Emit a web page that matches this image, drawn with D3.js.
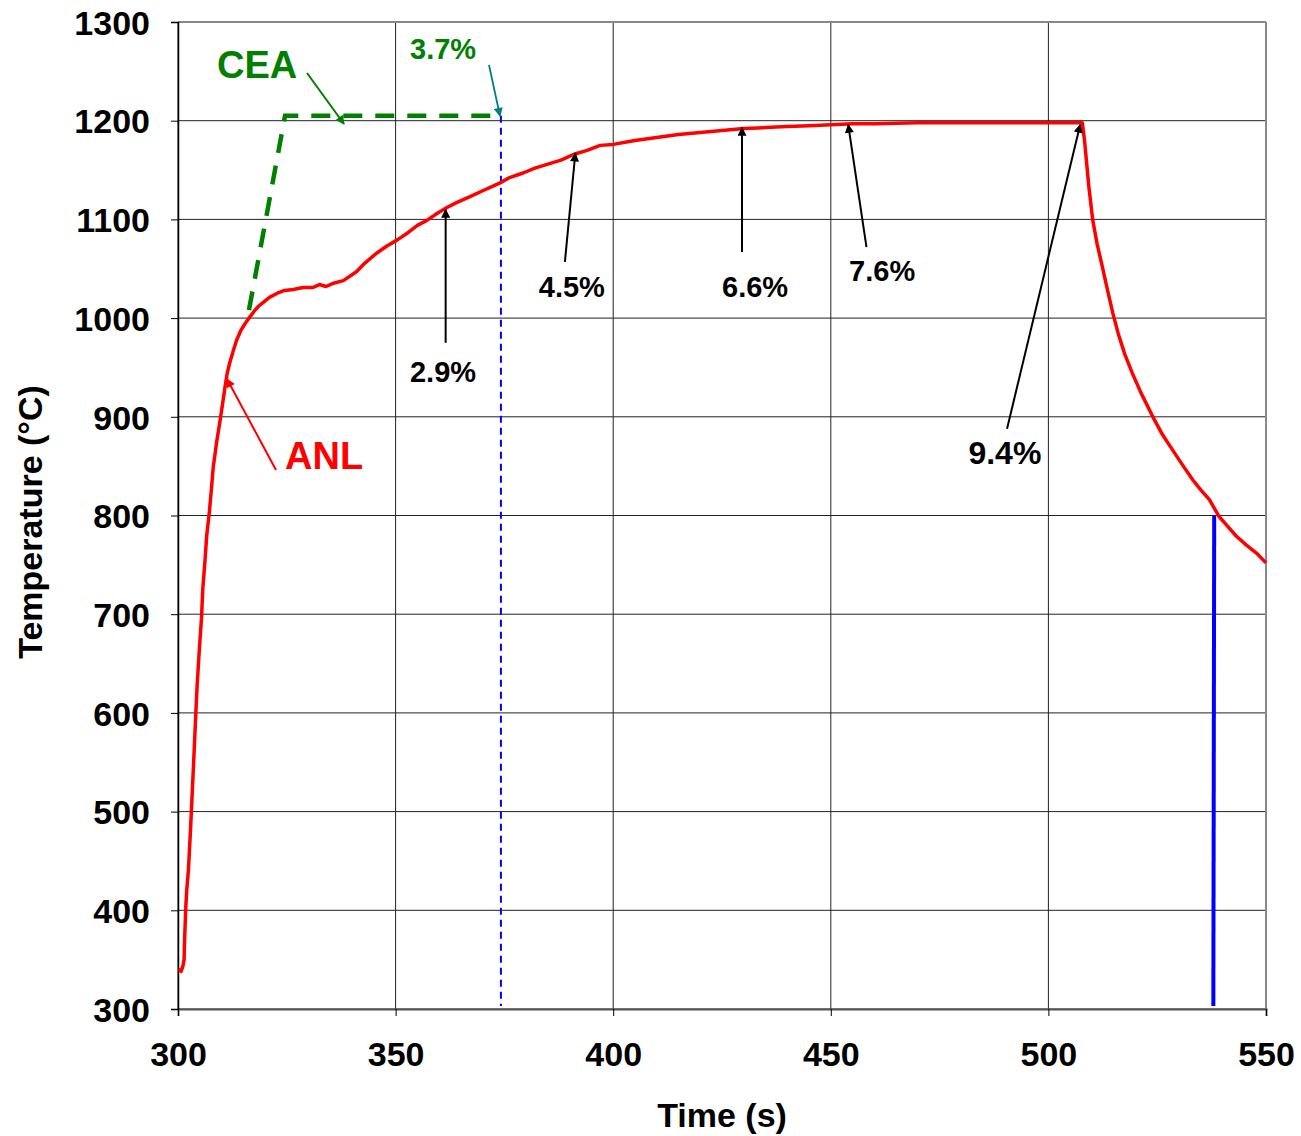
<!DOCTYPE html>
<html>
<head>
<meta charset="utf-8">
<script src="https://cdn.jsdelivr.net/npm/d3@7"></script>
<style>
  html, body { margin: 0; padding: 0; background: #fff; }
  svg { display: block; font-family: "Liberation Sans", Arial, sans-serif; }
</style>
</head>
<body>
<svg id="chart" width="1301" height="1136"></svg>
<script>
// Measured thermocouple trace (ANL): time in s, temperature in °C
const anlTime = [300.2, 300.7, 301.1, 301.4, 301.5, 301.8, 302.0, 302.4, 302.9, 303.3, 303.7, 304.1, 304.4, 304.9, 305.4, 305.7, 306.2, 306.6, 307.2, 307.7, 308.1, 308.9, 309.7, 310.3, 310.8, 311.3, 311.9, 312.7, 313.5, 314.5, 315.5, 316.5, 317.5, 318.5, 319.6, 321.0, 322.7, 324.5, 326.5, 328.7, 331.0, 332.5, 334.0, 335.5, 338.0, 341.0, 343.0, 345.7, 348.0, 350.3, 353.0, 355.0, 357.2, 359.5, 361.8, 364.0, 367.1, 370.0, 372.0, 374.0, 376.0, 379.3, 382.0, 385.0, 388.0, 391.0, 394.0, 397.0, 400.0, 405.0, 410.0, 415.0, 420.0, 425.0, 430.0, 435.0, 440.0, 445.0, 450.0, 455.0, 460.0, 470.0, 480.0, 490.0, 500.0, 507.8, 508.3, 509.3, 510.2, 511.2, 512.4, 513.6, 514.8, 516.0, 517.5, 519.3, 521.3, 524.0, 526.2, 528.6, 531.0, 533.2, 535.0, 537.0, 539.2, 541.0, 543.2, 545.5, 547.8, 550.0];
const anlTemp = [341, 338, 343, 350, 368, 404, 420, 441, 484, 522, 560, 600, 628, 664, 696, 726, 754, 780, 803, 828, 849, 875, 897, 915, 930, 944, 955, 967, 978, 988, 995, 1001, 1007, 1012, 1016, 1021, 1025, 1028, 1029, 1031, 1031, 1034, 1032, 1035, 1038, 1047, 1056, 1066, 1073, 1079, 1087, 1094, 1099, 1106, 1112, 1117, 1123, 1129, 1133, 1137, 1142, 1147, 1152, 1156, 1160, 1166, 1170, 1175, 1176, 1180, 1183, 1186, 1188, 1190, 1192, 1193, 1194, 1195, 1196, 1197, 1197, 1198, 1198, 1198, 1198, 1198, 1180, 1133, 1099, 1075, 1052, 1028, 1005, 985, 964, 944, 924, 900, 882, 866, 850, 836, 826, 816, 799, 790, 779, 770, 762, 752];

// CEA prescribed ramp and plateau
const ceaTime = [316.3, 324.6, 374.2];
const ceaTemp = [1008, 1205, 1205];

// Reference markers: [time, temperature]
const cea37Line = [[374.2, 1205], [374.2, 303]];
const quenchLine = [[538.1, 800], [537.9, 303]];

// Oxidation percentages along the ANL trace
const pctLabels = ["2.9%", "4.5%", "6.6%", "7.6%", "9.4%"];
const pctTip = [[361.5, 1110], [391.3, 1167], [429.6, 1193], [454.0, 1196], [507.3, 1196]];
const pctTail = [[361.5, 975], [388.9, 1057], [429.6, 1067], [458.2, 1072], [490.5, 888]];
const pctText = [[360.9, 935], [390.5, 1021], [432.6, 1021], [461.8, 1038], [490.0, 852]];
const pctSize = [29, 29, 29, 29, 32];

const xTicks = [300, 350, 400, 450, 500, 550];
const yTicks = [300, 400, 500, 600, 700, 800, 900, 1000, 1100, 1200, 1300];

const svg = d3.select("#chart");
const plotL = 178, plotR = 1266, plotT = 22, plotB = 1009;

const x = d3.scaleLinear().domain([300, 550]).range([plotL, plotR]);
const y = d3.scaleLinear().domain([300, 1300]).range([plotB, plotT]);

// Arrowhead markers
const defs = svg.append("defs");
function arrowHead(id, color, w, h) {
  defs.append("marker")
    .attr("id", id).attr("viewBox", "0 0 10 10")
    .attr("refX", 9).attr("refY", 5)
    .attr("markerWidth", w).attr("markerHeight", h)
    .attr("markerUnits", "userSpaceOnUse")
    .attr("orient", "auto")
    .append("path").attr("d", "M0,0 L10,5 L0,10 Z").attr("fill", color);
}
arrowHead("ahBlack", "#000", 10, 9);
arrowHead("ahGreen", "#008000", 11, 9);
arrowHead("ahTeal", "#008080", 10, 9);
arrowHead("ahRed", "#ff0000", 11, 9);

defs.append("clipPath").attr("id", "plotClip")
  .append("rect").attr("x", plotL).attr("y", plotT - 2)
  .attr("width", plotR - plotL + 2).attr("height", plotB - plotT + 4);

// Grid
const grid = svg.append("g");
grid.selectAll("line.h").data(yTicks).join("line").attr("class", "h")
  .attr("x1", plotL).attr("x2", plotR)
  .attr("y1", d => y(d)).attr("y2", d => y(d))
  .attr("stroke", "#222").attr("stroke-width", 1);
grid.selectAll("line.v").data(xTicks).join("line").attr("class", "v")
  .attr("x1", d => x(d)).attr("x2", d => x(d))
  .attr("y1", plotT).attr("y2", plotB)
  .attr("stroke", "#222").attr("stroke-width", 1);

// Plot frame: top and right in grey
svg.append("line").attr("x1", plotL).attr("x2", plotR).attr("y1", plotT).attr("y2", plotT)
  .attr("stroke", "#888").attr("stroke-width", 2);
svg.append("line").attr("x1", plotR).attr("x2", plotR).attr("y1", plotT).attr("y2", plotB)
  .attr("stroke", "#888").attr("stroke-width", 2);

// Axes
const xAxis = svg.append("g").attr("transform", `translate(0,${plotB})`)
  .call(d3.axisBottom(x).tickValues(xTicks).tickSize(7).tickPadding(26).tickFormat(d3.format("d")));
const yAxis = svg.append("g").attr("transform", `translate(${plotL},0)`)
  .call(d3.axisLeft(y).tickValues(yTicks).tickSize(7).tickPadding(21).tickFormat(d3.format("d")));
[xAxis, yAxis].forEach(g => {
  g.selectAll(".tick line").attr("stroke", "#000").attr("stroke-width", 1);
  g.selectAll(".tick text")
    .attr("font-family", "'Liberation Sans', Arial, sans-serif")
    .attr("font-size", 34).attr("font-weight", "bold").attr("fill", "#000");
});
yAxis.selectAll(".tick text").attr("dy", "0.36em");
xAxis.select(".domain").attr("stroke", "#555").attr("stroke-width", 2);
yAxis.select(".domain").attr("stroke", "#000").attr("stroke-width", 1.5);

// Axis titles
svg.append("text").attr("x", 722).attr("y", 1127)
  .attr("text-anchor", "middle").attr("font-size", 34).attr("font-weight", "bold")
  .text("Time (s)");
svg.append("text").attr("transform", "translate(42,522) rotate(-90)")
  .attr("text-anchor", "middle").attr("font-size", 34).attr("font-weight", "bold")
  .text("Temperature (°C)");

const plot = svg.append("g").attr("clip-path", "url(#plotClip)");
const line = d3.line().x(d => x(d[0])).y(d => y(d[1]));

// 3.7% marker at end of CEA plateau
plot.append("path").datum(cea37Line).attr("d", line)
  .attr("fill", "none").attr("stroke", "#0000ff").attr("stroke-width", 2)
  .attr("stroke-dasharray", "7,5");

// CEA ramp
plot.append("path").datum(ceaTime.map((t, i) => [t, ceaTemp[i]])).attr("d", line)
  .attr("fill", "none").attr("stroke", "#008000").attr("stroke-width", 4.5)
  .attr("stroke-dasharray", "19,13");

// Quench line
plot.append("path").datum(quenchLine).attr("d", line)
  .attr("fill", "none").attr("stroke", "#0000ff").attr("stroke-width", 4);

// ANL trace
plot.append("path").datum(anlTime.map((t, i) => [t, anlTemp[i]])).attr("d", line)
  .attr("fill", "none").attr("stroke", "#ff0000").attr("stroke-width", 3.5)
  .attr("stroke-linejoin", "round");

// Percentage annotations
const ann = svg.append("g");
pctLabels.forEach((lab, i) => {
  ann.append("line")
    .attr("x1", x(pctTail[i][0])).attr("y1", y(pctTail[i][1]))
    .attr("x2", x(pctTip[i][0])).attr("y2", y(pctTip[i][1]))
    .attr("stroke", "#000").attr("stroke-width", 2)
    .attr("marker-end", "url(#ahBlack)");
  ann.append("text")
    .attr("x", x(pctText[i][0])).attr("y", y(pctText[i][1]))
    .attr("text-anchor", "middle").attr("font-size", pctSize[i]).attr("font-weight", "bold")
    .attr("fill", "#000").text(lab);
});

// Series labels
ann.append("text").attr("x", 217).attr("y", 78)
  .attr("font-size", 38).attr("font-weight", "bold").attr("fill", "#008000").text("CEA");
ann.append("line").attr("x1", 307).attr("y1", 73).attr("x2", 344).attr("y2", 124)
  .attr("stroke", "#008000").attr("stroke-width", 2).attr("marker-end", "url(#ahGreen)");

ann.append("text").attr("x", 410).attr("y", 59)
  .attr("font-size", 29).attr("font-weight", "bold").attr("fill", "#008000").text("3.7%");
ann.append("line").attr("x1", 489).attr("y1", 65).attr("x2", 500).attr("y2", 116)
  .attr("stroke", "#008080").attr("stroke-width", 1.8).attr("marker-end", "url(#ahTeal)");

ann.append("text").attr("x", 285).attr("y", 469)
  .attr("font-size", 38).attr("font-weight", "bold").attr("fill", "#ff0000").text("ANL");
ann.append("line").attr("x1", 276).attr("y1", 470).attr("x2", 227).attr("y2", 379)
  .attr("stroke", "#ff0000").attr("stroke-width", 2).attr("marker-end", "url(#ahRed)");
</script>
</body>
</html>
